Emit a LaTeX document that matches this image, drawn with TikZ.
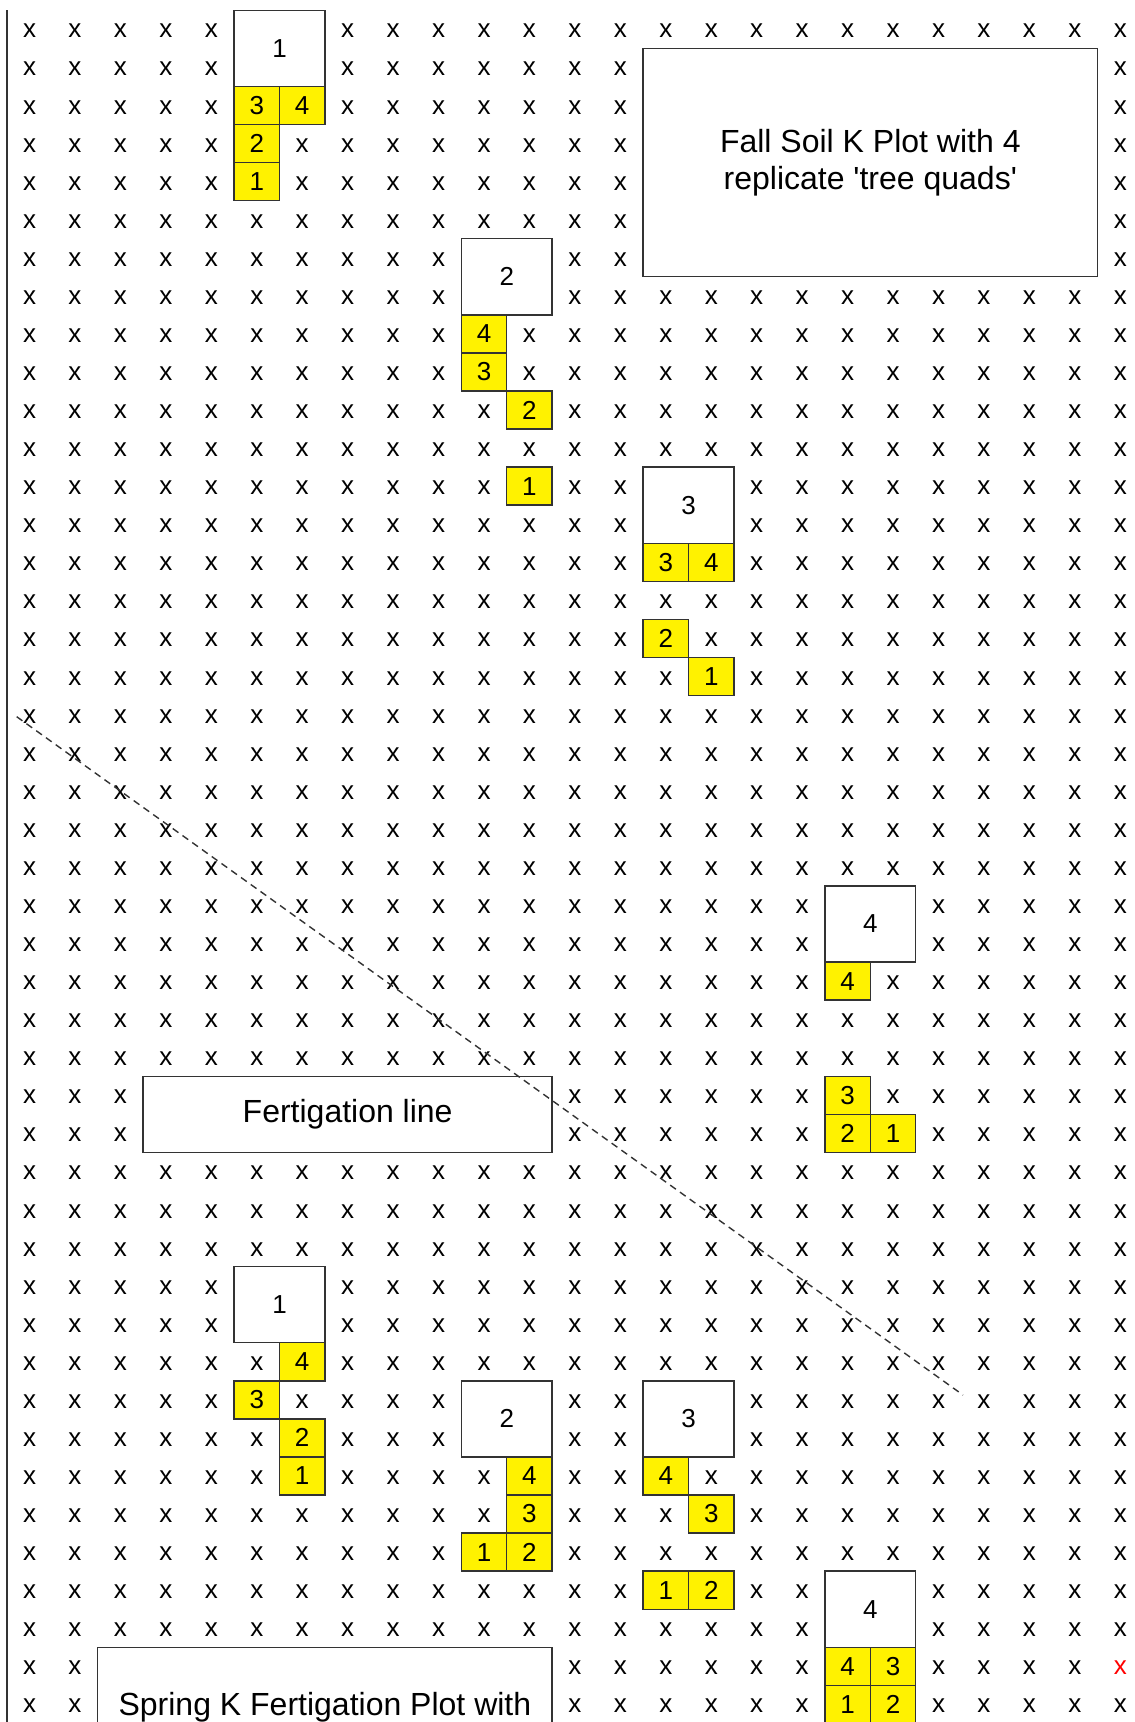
\documentclass[tikz,border=0pt]{standalone}
\usepackage{fontspec}
\setmainfont{Liberation Sans}
\newfontfamily\lblfont{Liberation Sans}[Ligatures=TeXOff]
\newcommand\mkycell[4]{\node[ycell] (#1) at ({29.5+45.45*#2},{29.3+38.07*#3}) {#4};}
\newcommand\mkwbox[4]{\node[wbox] (#1) at ({29.5+45.45*(#2+0.5)},{29.3+38.07*(#3+0.5)}) {#4};}
\begin{document}
\begin{tikzpicture}[x=0.5pt,y=-0.5pt,
  xm/.style={inner sep=0pt, font=\fontsize{13pt}{15pt}\selectfont},
  ycell/.style={draw=black!80, line width=0.7pt, fill=yellow, inner sep=0pt,
    minimum width=22.725pt, minimum height=19.035pt, font=\fontsize{13pt}{15pt}\selectfont},
  wbox/.style={draw=black!80, line width=0.7pt, fill=white, inner sep=0pt,
    minimum width=45.45pt, minimum height=38.07pt, font=\fontsize{13pt}{15pt}\selectfont},
  bigbox/.style={draw=black!80, line width=0.7pt, fill=white, inner sep=0pt,
    font=\lblfont\fontsize{16pt}{18.5pt}\selectfont, align=center},
  biglbl/.style={inner sep=0pt, font=\lblfont\fontsize{16pt}{18.5pt}\selectfont},
  fline/.style={draw=black!80, line width=0.7pt, dash pattern=on 3.5pt off 2.5pt},
  edge/.style={draw=black!80, line width=0.9pt}]
\path[use as bounding box, clip] (0,0) rectangle (1134,1722);
\fill[white] (0,0) rectangle (1134,1722);
% grid of x marks
\foreach \i in {0,...,24}{
  \foreach \j in {0,...,44}{
    \ifnum\i=24 \ifnum\j=43 \def\xcol{red}\else\def\xcol{black}\fi\else\def\xcol{black}\fi
    \node[xm,text=\xcol] (x\i-\j) at ({29.5+45.45*\i},{31+38.07*\j}) {x};
  }
}
% left edge
\coordinate (lt) at (7.3,10.3);
\coordinate (lb) at (7.3,1722);
\draw[edge] (lt) -- (lb);
% big label boxes
\node[bigbox, minimum width=227.25pt, minimum height=114.21pt] (fall) at (870.3,162.5)
  {Fall Soil K Plot with 4\\replicate 'tree quads'};
\node[bigbox, minimum width=204.525pt, minimum height=38.07pt] (fert) at (347.65,1114.4)
  {Fertigation line};
\node[bigbox, minimum width=227.25pt, minimum height=76.14pt] (spring) at (324.9,1723.4) {};
\node[biglbl] (springlbl) at (324.9,1707) {Spring K Fertigation Plot with};
% tree boxes (top)
\mkwbox{ta}{5}{0}{1}
\mkycell{ta3}{5}{2}{3}\mkycell{ta4}{6}{2}{4}\mkycell{ta2}{5}{3}{2}\mkycell{ta1}{5}{4}{1}
\mkwbox{tb}{10}{6}{2}
\mkycell{tb4}{10}{8}{4}\mkycell{tb3}{10}{9}{3}\mkycell{tb2}{11}{10}{2}\mkycell{tb1}{11}{12}{1}
\mkwbox{tc}{14}{12}{3}
\mkycell{tc3}{14}{14}{3}\mkycell{tc4}{15}{14}{4}\mkycell{tc2}{14}{16}{2}\mkycell{tc1}{15}{17}{1}
\mkwbox{td}{18}{23}{4}
\mkycell{td4}{18}{25}{4}\mkycell{td3}{18}{28}{3}\mkycell{td2}{18}{29}{2}\mkycell{td1}{19}{29}{1}
% tree boxes (bottom)
\mkwbox{ba}{5}{33}{1}
\mkycell{ba4}{6}{35}{4}\mkycell{ba3}{5}{36}{3}\mkycell{ba2}{6}{37}{2}\mkycell{ba1}{6}{38}{1}
\mkwbox{bb}{10}{36}{2}
\mkycell{bb4}{11}{38}{4}\mkycell{bb3}{11}{39}{3}\mkycell{bb1}{10}{40}{1}\mkycell{bb2}{11}{40}{2}
\mkwbox{bc}{14}{36}{3}
\mkycell{bc4}{14}{38}{4}\mkycell{bc3}{15}{39}{3}\mkycell{bc1}{14}{41}{1}\mkycell{bc2}{15}{41}{2}
\mkwbox{bd}{18}{41}{4}
\mkycell{bd4}{18}{43}{4}\mkycell{bd3}{19}{43}{3}\mkycell{bd1}{18}{44}{1}\mkycell{bd2}{19}{44}{2}
% dashed line
\coordinate (dA) at (16.7,716.7);
\coordinate (dB) at (963,1395);
\draw[fline] (dA) -- (dB);
\end{tikzpicture}
\end{document}
